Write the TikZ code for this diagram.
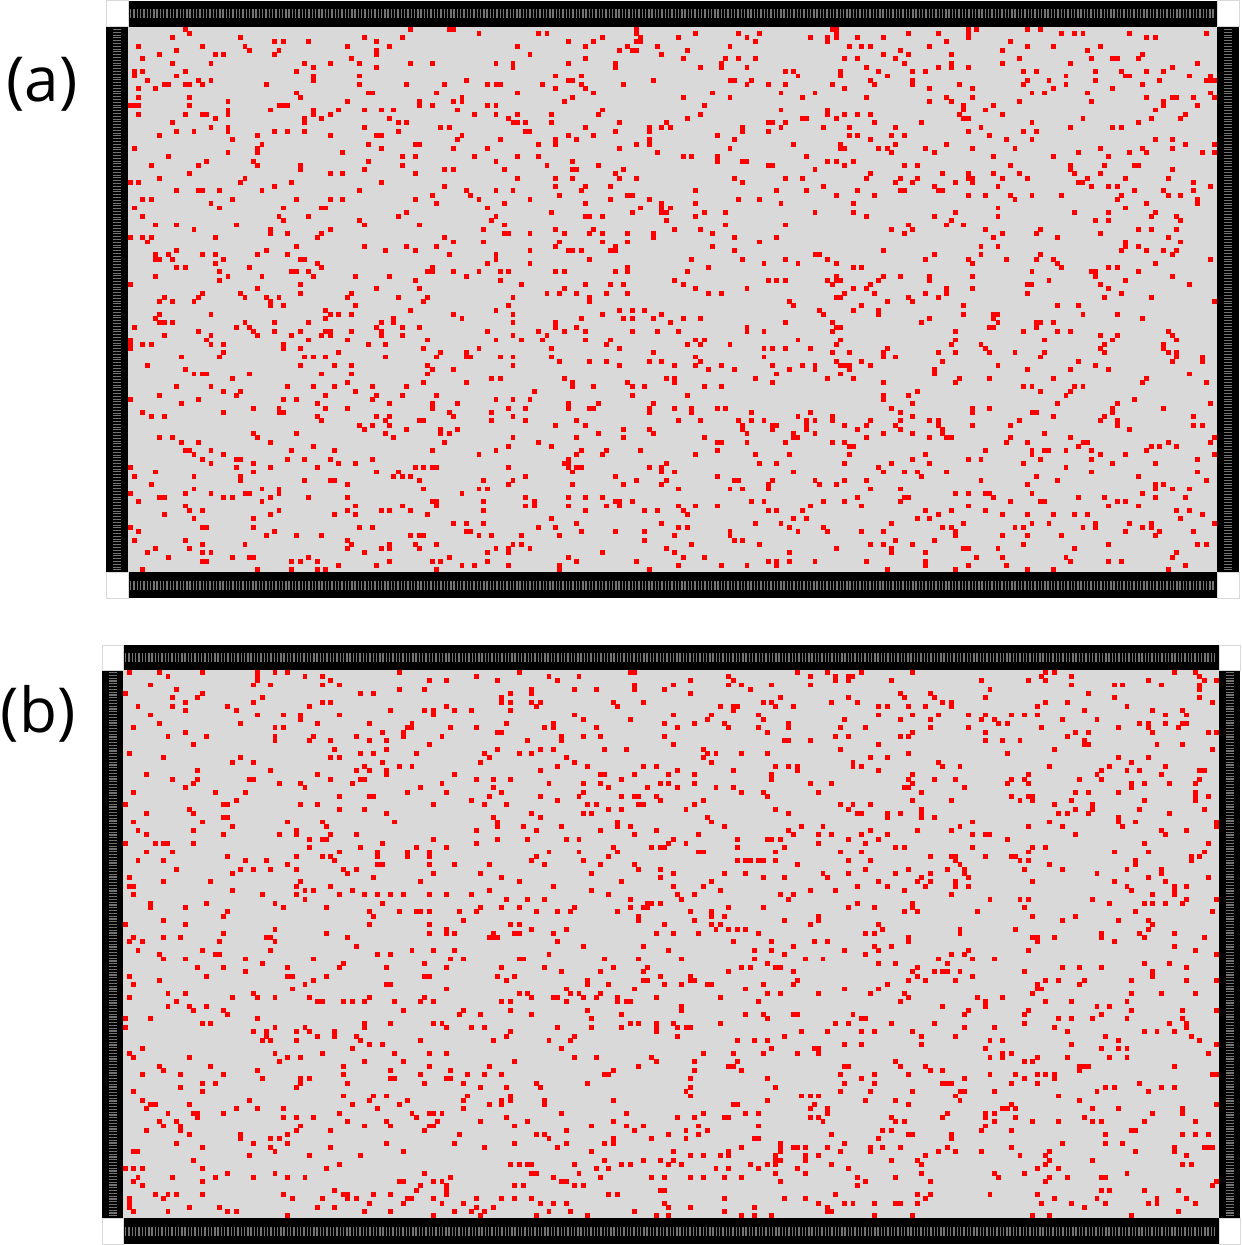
\documentclass[tikz,border=0pt]{standalone}
\usepackage{fontspec}
\setmainfont{Open Sans}
\definecolor{bggray}{RGB}{217,217,217}
\definecolor{dotred}{RGB}{255,0,0}
\definecolor{markgray}{RGB}{115,115,115}
\tikzset{
  barfill/.style={fill=black},
  cornerbox/.style={fill=white, draw=black!15, line width=0.5pt},
  hmarks/.style={draw=markgray, line width=4.5pt, dash pattern=on 0.7pt off 0.95pt},
  vmarks/.style={draw=markgray, line width=4pt, dash pattern=on 0.55pt off 0.85pt},
  reddot/.style={fill=dotred},
  panellabel/.style={font=\fontsize{31}{37}\selectfont, inner sep=0pt, anchor=base},
}
% #1 outer left, #2 outer right, #3 outer top, #4 outer bottom,
% #5 gray left, #6 gray right, #7 gray top, #8 gray bottom, #9 seed
\newcommand\drawpanel[9]{%
  \fill[bggray] (#5,#7) rectangle (#6,#8);
  \fill[barfill] (#1,#7) rectangle (#5,#8);
  \fill[barfill] (#6,#7) rectangle (#2,#8);
  \fill[barfill] (#5,#3) rectangle (#6,#7);
  \fill[barfill] (#5,#8) rectangle (#6,#4);
  \filldraw[cornerbox] (#1,#3) rectangle (#5,#7);
  \filldraw[cornerbox] (#6,#3) rectangle (#2,#7);
  \filldraw[cornerbox] (#1,#8) rectangle (#5,#4);
  \filldraw[cornerbox] (#6,#8) rectangle (#2,#4);
  \draw[hmarks] ({#5+2},{(#3+#7)/2}) -- ({#6-2},{(#3+#7)/2});
  \draw[hmarks] ({#5+2},{(#8+#4)/2}) -- ({#6-2},{(#8+#4)/2});
  \draw[vmarks] ({(#1+#5)/2},{#7+2}) -- ({(#1+#5)/2},{#8-2});
  \draw[vmarks] ({(#6+#2)/2},{#7+2}) -- ({(#6+#2)/2},{#8-2});
  \pgfmathsetmacro\cw{(#6-#5)/256}%
  \pgfmathsetmacro\ch{(#8-#7)/128}%
  \pgfmathsetmacro\dw{\cw*1.15}%
  \pgfmathsetmacro\dh{\ch*1.15}%
  \pgfmathsetseed{#9}%
  \foreach \i in {1,...,1900}{%
    \pgfmathrandominteger{\cx}{0}{255}%
    \pgfmathrandominteger{\cy}{0}{127}%
    \fill[reddot] ({#5+\cx*\cw-0.3},{#7+\cy*\ch-0.3}) rectangle ++(\dw,\dh);
  }%
}
\begin{document}
\begin{tikzpicture}[x=0.5pt,y=-0.5pt]
  \useasboundingbox[fill=white] (0,0) rectangle (1241,1245);
  \drawpanel{106}{1239}{1}{598}{128}{1217}{27}{572}{4271}
  \drawpanel{102}{1240}{645}{1244}{123}{1219}{670}{1218}{9137}
  \node[panellabel] (la) at (42,102) {(a)};
  \node[panellabel] (lb) at (38,732) {(b)};
\end{tikzpicture}
\end{document}
